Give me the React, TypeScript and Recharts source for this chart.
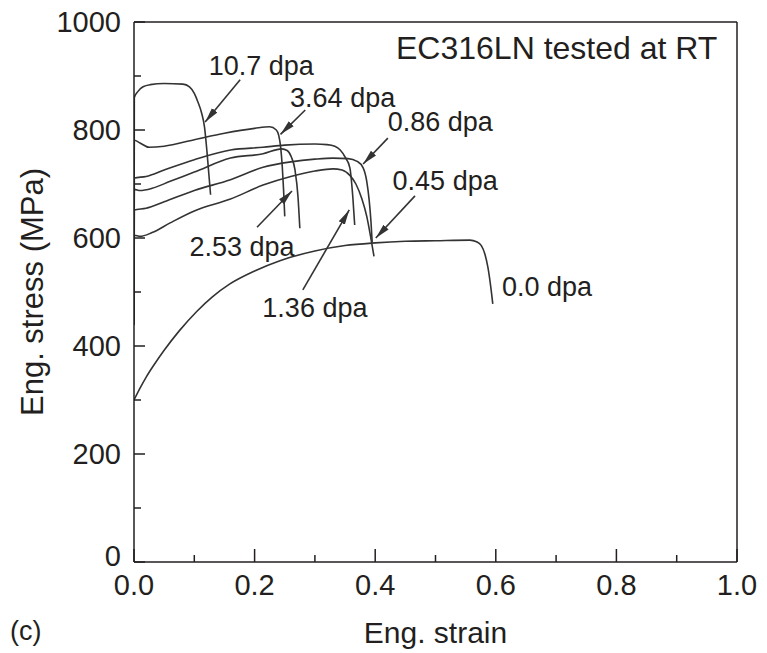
import { LineChart, Line, XAxis, YAxis, ReferenceLine, ReferenceDot } from "recharts";

// [strain, stress MPa]
const dpa0_0 = [
  [0, 300], [0.01, 322], [0.02, 342], [0.035, 368], [0.05, 392], [0.075, 428],
  [0.104, 464], [0.13, 491], [0.159, 515], [0.2, 539], [0.242, 558], [0.3, 576],
  [0.35, 586], [0.4, 591], [0.45, 594], [0.5, 595], [0.557, 596], [0.568, 593],
  [0.576, 586], [0.582, 570], [0.587, 545], [0.591, 515], [0.595, 478],
];
const dpa10_7 = [
  [0, 440], [0.0005, 860], [0.007, 872], [0.015, 880], [0.027, 884], [0.05, 886],
  [0.081, 885], [0.092, 880], [0.1, 868], [0.106, 852], [0.112, 832], [0.117, 805],
  [0.121, 760], [0.124, 720], [0.127, 680],
];
const dpa3_64 = [
  [0, 440], [0.0005, 781], [0.01, 776], [0.025, 768], [0.05, 770], [0.1, 782],
  [0.15, 794], [0.2, 803], [0.225, 806], [0.236, 800], [0.24, 790], [0.243, 770],
  [0.246, 730], [0.248, 690], [0.25, 640],
];
const dpa2_53 = [
  [0, 440], [0.0005, 690], [0.01, 688], [0.03, 692], [0.06, 705], [0.1, 722],
  [0.16, 748], [0.214, 756], [0.245, 765], [0.254, 762], [0.261, 750], [0.267, 726],
  [0.272, 676], [0.275, 618],
];
const dpa1_36 = [
  [0, 440], [0.0005, 711], [0.02, 714], [0.05, 726], [0.1, 745], [0.16, 763],
  [0.214, 768], [0.25, 772], [0.3, 774], [0.32, 773], [0.333, 770], [0.342, 763],
  [0.35, 750], [0.358, 730], [0.363, 674], [0.366, 624],
];
const dpa0_86 = [
  [0, 440], [0.0005, 652], [0.02, 655], [0.05, 667], [0.1, 688], [0.16, 708],
  [0.214, 731], [0.26, 741], [0.3, 746], [0.33, 748], [0.355, 747], [0.37, 742],
  [0.38, 730], [0.386, 705], [0.39, 670], [0.393, 630], [0.395, 592],
];
const dpa0_45 = [
  [0, 440], [0.0005, 605], [0.01, 603], [0.03, 610], [0.06, 628], [0.1, 650],
  [0.16, 672], [0.214, 698], [0.26, 714], [0.3, 724], [0.33, 728], [0.345, 726],
  [0.358, 716], [0.368, 700], [0.378, 672], [0.386, 640], [0.392, 605], [0.398, 566],
];

const curves = [dpa0_0, dpa10_7, dpa3_64, dpa2_53, dpa1_36, dpa0_86, dpa0_45];

// arrows: tail -> tip
const arrows = [
  [[0.176, 893], [0.118, 815]],
  [[0.284, 837], [0.243, 792]],
  [[0.421, 785], [0.38, 737]],
  [[0.466, 678], [0.401, 600]],
  [[0.204, 620], [0.262, 687]],
  [[0.28, 504], [0.357, 652]],
];

const labelTexts = ["10.7 dpa", "3.64 dpa", "0.86 dpa", "0.45 dpa", "2.53 dpa", "1.36 dpa", "0.0 dpa"];
const labelX = [0.211, 0.346, 0.508, 0.516, 0.179, 0.3, 0.685];
const labelY = [920, 861, 815, 706, 585, 472, 511];

const xTicks = [0, 0.1, 0.2, 0.3, 0.4, 0.5, 0.6, 0.7, 0.8, 0.9, 1.0];
const yTicks = [0, 100, 200, 300, 400, 500, 600, 700, 800, 900, 1000];

const FONT = '"Liberation Sans", Arial, Helvetica, sans-serif';
const INK = "#231f20";
const LINE = "#333333";

const toPts = (arr: number[][]) => arr.map(([x, y]) => ({ x, y }));

function XTick({ x, y, payload }: any) {
  const v = payload.value;
  const major = Math.round(v * 10) % 2 === 0;
  return (
    <g>
      <line x1={x} x2={x} y1={y} y2={y - (major ? 13 : 7)} stroke={INK} strokeWidth={1.5} />
      {major && (
        <text x={x} y={y + 33} textAnchor="middle" fontSize={29} fill={INK} fontFamily={FONT}>
          {v.toFixed(1)}
        </text>
      )}
    </g>
  );
}

function YTick({ x, y, payload }: any) {
  const v = payload.value;
  const major = v % 200 === 0;
  return (
    <g>
      <line x1={x} x2={x + (major ? 11 : 7)} y1={y} y2={y} stroke={INK} strokeWidth={1.5} />
      {major && (
        <text x={x - 13} y={y + (v === 0 ? 4 : 10)} textAnchor="end" fontSize={29} fill={INK} fontFamily={FONT}>
          {v}
        </text>
      )}
    </g>
  );
}

export default function App() {
  return (
    <div style={{ position: "absolute", left: 0, top: 0, width: 767, height: 653, background: "#fff", fontFamily: FONT }}>
      <LineChart width={767} height={653} margin={{ top: 22, right: 30, left: 0, bottom: 0 }}>
        <defs>
          <marker id="arrowhead" markerUnits="userSpaceOnUse" markerWidth={16} markerHeight={10} refX={15} refY={5} orient="auto">
            <path d="M0,1.5 L15,5 L0,8.5 Z" fill={LINE} />
          </marker>
        </defs>
        <XAxis
          dataKey="x"
          type="number"
          domain={[0, 1]}
          ticks={xTicks}
          interval={0}
          height={91}
          tickLine={false}
          tickSize={0}
          tickMargin={0}
          tick={<XTick />}
          axisLine={{ stroke: INK, strokeWidth: 1.5 }}
          allowDataOverflow
          label={{ value: "Eng. strain", position: "insideBottom", offset: 10, fontSize: 30, fill: INK, fontFamily: FONT }}
        />
        <YAxis
          type="number"
          domain={[0, 1000]}
          ticks={yTicks}
          interval={0}
          width={134}
          tickLine={false}
          tickSize={0}
          tickMargin={0}
          tick={<YTick />}
          axisLine={{ stroke: INK, strokeWidth: 1.5 }}
          allowDataOverflow
          label={{
            value: "Eng. stress (MPa)",
            angle: -90,
            position: "insideLeft",
            offset: 32,
            fontSize: 31,
            fill: INK,
            fontFamily: FONT,
            style: { textAnchor: "middle" },
          }}
        />
        <ReferenceLine y={1000} stroke={INK} strokeWidth={1.5} />
        <ReferenceLine x={1} stroke={INK} strokeWidth={1.5} />

        {curves.map((c, i) => (
          <Line
            key={"c" + i}
            data={toPts(c)}
            dataKey="y"
            type="monotone"
            stroke={LINE}
            strokeWidth={1.6}
            dot={false}
            activeDot={false}
            isAnimationActive={false}
          />
        ))}
        {arrows.map((a, i) => (
          <Line
            key={"a" + i}
            data={toPts(a)}
            dataKey="y"
            type="linear"
            stroke={LINE}
            strokeWidth={1.6}
            dot={false}
            activeDot={false}
            markerEnd="url(#arrowhead)"
            isAnimationActive={false}
          />
        ))}

        <ReferenceDot
          x={0.701}
          y={952}
          r={0}
          fill="none"
          stroke="none"
          label={{ value: "EC316LN tested at RT", position: "center", fontSize: 32, fill: INK, fontFamily: FONT }}
        />
        {labelTexts.map((t, i) => (
          <ReferenceDot
            key={"l" + i}
            x={labelX[i]}
            y={labelY[i]}
            r={0}
            fill="none"
            stroke="none"
            label={{ value: t, position: "center", fontSize: 27, fill: INK, fontFamily: FONT }}
          />
        ))}
      </LineChart>
      <div style={{ position: "absolute", left: 10, top: 616, fontSize: 27, color: INK }}>(c)</div>
    </div>
  );
}
